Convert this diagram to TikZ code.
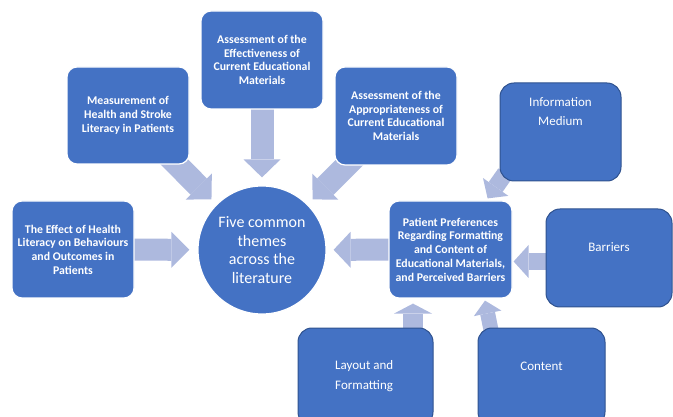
\documentclass[tikz,border=0pt]{standalone}
\usepackage{fontspec}
\setmainfont{Carlito}
\usetikzlibrary{arrows.meta}
\pgfdeclarelayer{background}
\pgfsetlayers{background,main}
\definecolor{boxblue}{HTML}{4472C4}
\definecolor{edgeblue}{HTML}{2F528F}
\definecolor{arrowblue}{RGB}{173,185,222}
\tikzset{
  mainbox/.style={rectangle, rounded corners=10pt, fill=boxblue, draw=white, line width=1.2pt,
    text=white, align=center, inner sep=2pt, font=\bfseries\fontsize{11.8}{13.7}\selectfont},
  subbox/.style={rectangle, rounded corners=14pt, fill=boxblue, draw=edgeblue, line width=1pt},
  subtext/.style={text=white, inner sep=0pt, font=\fontsize{13}{19.5}\selectfont},
  fatarrow/.style n args={3}{draw=arrowblue, line width=#1,
    -{Triangle[length=#3, width=#2, line width=0pt]}}
}
\begin{document}
\begin{tikzpicture}[x=1pt,y=-1pt]
\useasboundingbox (0,0) rectangle (673,417);
\clip (0,0) rectangle (673,417);

% main theme boxes
\node[mainbox, minimum width=122pt, minimum height=97pt] (meas) at (128,115.5)
  {Measurement of\\Health and Stroke\\Literacy in Patients};
\node[mainbox, minimum width=122pt, minimum height=98pt] (eff) at (262,60)
  {Assessment of the\\Effectiveness of\\Current Educational\\Materials};
\node[mainbox, minimum width=122pt, minimum height=98pt] (appr) at (396,116)
  {Assessment of the\\Appropriateness of\\Current Educational\\Materials};
\node[mainbox, minimum width=122pt, minimum height=97pt] (effect) at (73,249.5)
  {The Effect of Health\\Literacy on Behaviours\\and Outcomes in\\Patients};
\node[mainbox, minimum width=123pt, minimum height=97pt] (pat) at (450.5,249.5)
  {Patient Preferences\\Regarding Formatting\\and Content of\\Educational Materials,\\and Perceived Barriers};

% centre circle
\node[circle, fill=boxblue, draw=white, line width=1.2pt, minimum size=128pt, inner sep=0pt,
  text=white, align=center, font=\fontsize{16}{18.5}\selectfont] (circ) at (262,250)
  {Five common\\themes\\across the\\literature};

% sub-category boxes
\node[subbox, minimum width=121pt, minimum height=98pt] (info) at (560.5,132) {};
\node[subtext, align=center] (infotext) at (560.5,111.5) {Information\\Medium};
\node[subbox, minimum width=126pt, minimum height=98pt] (barr) at (609,258) {};
\node[subtext] (barrtext) at (609,247) {Barriers};
\node[subbox, minimum width=135pt, minimum height=98pt] (lay) at (365.5,377) {};
\node[subtext, align=left, anchor=west] (laytext) at (335,376) {Layout and\\Formatting};
\node[subbox, minimum width=127pt, minimum height=98pt] (cont) at (541.5,377) {};
\node[subtext] (conttext) at (541.5,366) {Content};

% block arrows
\begin{pgfonlayer}{background}
\draw[fatarrow={23pt}{37pt}{18pt}, shorten <=-15pt, shorten >=7pt] (meas) -- (circ);
\draw[fatarrow={23pt}{37pt}{18pt}, shorten <=-10pt, shorten >=8pt] (eff) -- (circ);
\draw[fatarrow={23pt}{37pt}{18pt}, shorten <=-15pt, shorten >=7pt] (appr) -- (circ);
\draw[fatarrow={22pt}{36pt}{18pt}, shorten <=-10pt, shorten >=8pt] (effect) -- (circ);
\draw[fatarrow={22pt}{36pt}{17pt}, shorten <=-10pt, shorten >=7pt] (pat) -- (circ);
\draw[fatarrow={17pt}{31pt}{14pt}, shorten <=-10pt] (info.south west) -- ([shift={(-25,-2)}]pat.north east);
\draw[fatarrow={17pt}{33pt}{15pt}, shorten <=-5pt] ([shift={(0,3.5)}]barr.west) -- ([shift={(1,12)}]pat.east);
\draw[fatarrow={20pt}{38pt}{10pt}, shorten <=-5pt] ([shift={(47.5,0)}]lay.north) -- ([shift={(-37.5,5)}]pat.south);
\draw[fatarrow={15pt}{28pt}{13pt}, shorten <=-5pt] ([shift={(-51,0)}]cont.north) -- ([shift={(34.5,2)}]pat.south);
\end{pgfonlayer}
\end{tikzpicture}
\end{document}
